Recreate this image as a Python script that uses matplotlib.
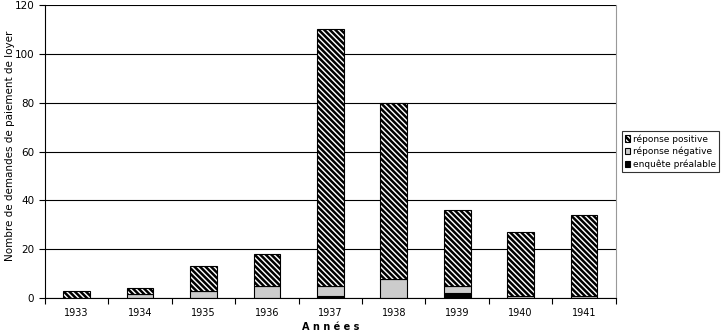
import matplotlib
matplotlib.use("Agg")
import matplotlib.pyplot as plt
import numpy as np

years = ["1933", "1934", "1935", "1936", "1937", "1938", "1939", "1940", "1941"]
enquete = [0, 0, 0, 0, 1, 0, 2, 0, 0]
negative = [0, 1.5, 3, 5, 4, 8, 3, 1, 1]
positive = [3, 2.5, 10, 13, 105, 72, 31, 26, 33]

plt.rcParams['font.family'] = ['DejaVu Sans']
plt.rcParams['hatch.linewidth'] = 1.8

fig = plt.figure(figsize=(7.22, 3.35), dpi=100)
ax = fig.add_axes([0.062, 0.11, 0.791, 0.875])

x = np.arange(len(years))
w = 0.42
e = np.array(enquete, float)
n = np.array(negative, float)
p = np.array(positive, float)

ax.set_axisbelow(True)
ax.yaxis.grid(True, color='black', linewidth=0.8)
b1 = ax.bar(x, e, w, color='black', edgecolor='black', linewidth=0.8, label='enquête préalable')
b2 = ax.bar(x, n, w, bottom=e, color='#cccccc', edgecolor='black', linewidth=0.8, label='réponse négative')
b3 = ax.bar(x, p, w, bottom=e + n, color='white', edgecolor='black', linewidth=0.8,
            hatch='\\\\\\\\\\\\', label='réponse positive')

ax.set_xlim(-0.5, len(years) - 0.5)
ax.set_ylim(0, 120)
ax.set_yticks(range(0, 121, 20))
ax.set_xticks(x)
ax.set_xticklabels(years)
ax.set_xticks(np.arange(-0.5, len(years), 1), minor=True)
ax.tick_params(axis='x', which='major', length=0, labelsize=7, pad=7)
ax.tick_params(axis='x', which='minor', length=4, width=0.8, direction='out')
ax.tick_params(axis='y', labelsize=7.5, length=4, width=0.8, direction='out')

ax.spines['top'].set_visible(False)
ax.spines['right'].set_color('#999999')
ax.spines['left'].set_linewidth(0.8)
ax.spines['bottom'].set_linewidth(0.8)

ax.set_xlabel('A n n é e s', fontsize=7, fontweight='bold', labelpad=3)
ax.set_ylabel('Nombre de demandes de paiement de loyer', fontsize=7.5)
ax.yaxis.set_label_coords(-0.052, 0.52)

leg = ax.legend(handles=[b3, b2, b1], loc='center left', bbox_to_anchor=(1.01, 0.5),
                fontsize=6.5, frameon=True, fancybox=False, edgecolor='black',
                handlelength=0.6, handleheight=0.7, handletextpad=0.3,
                borderpad=0.35, labelspacing=0.35, borderaxespad=0)
leg.get_frame().set_linewidth(0.8)

fig.savefig('out.png', dpi=100)
